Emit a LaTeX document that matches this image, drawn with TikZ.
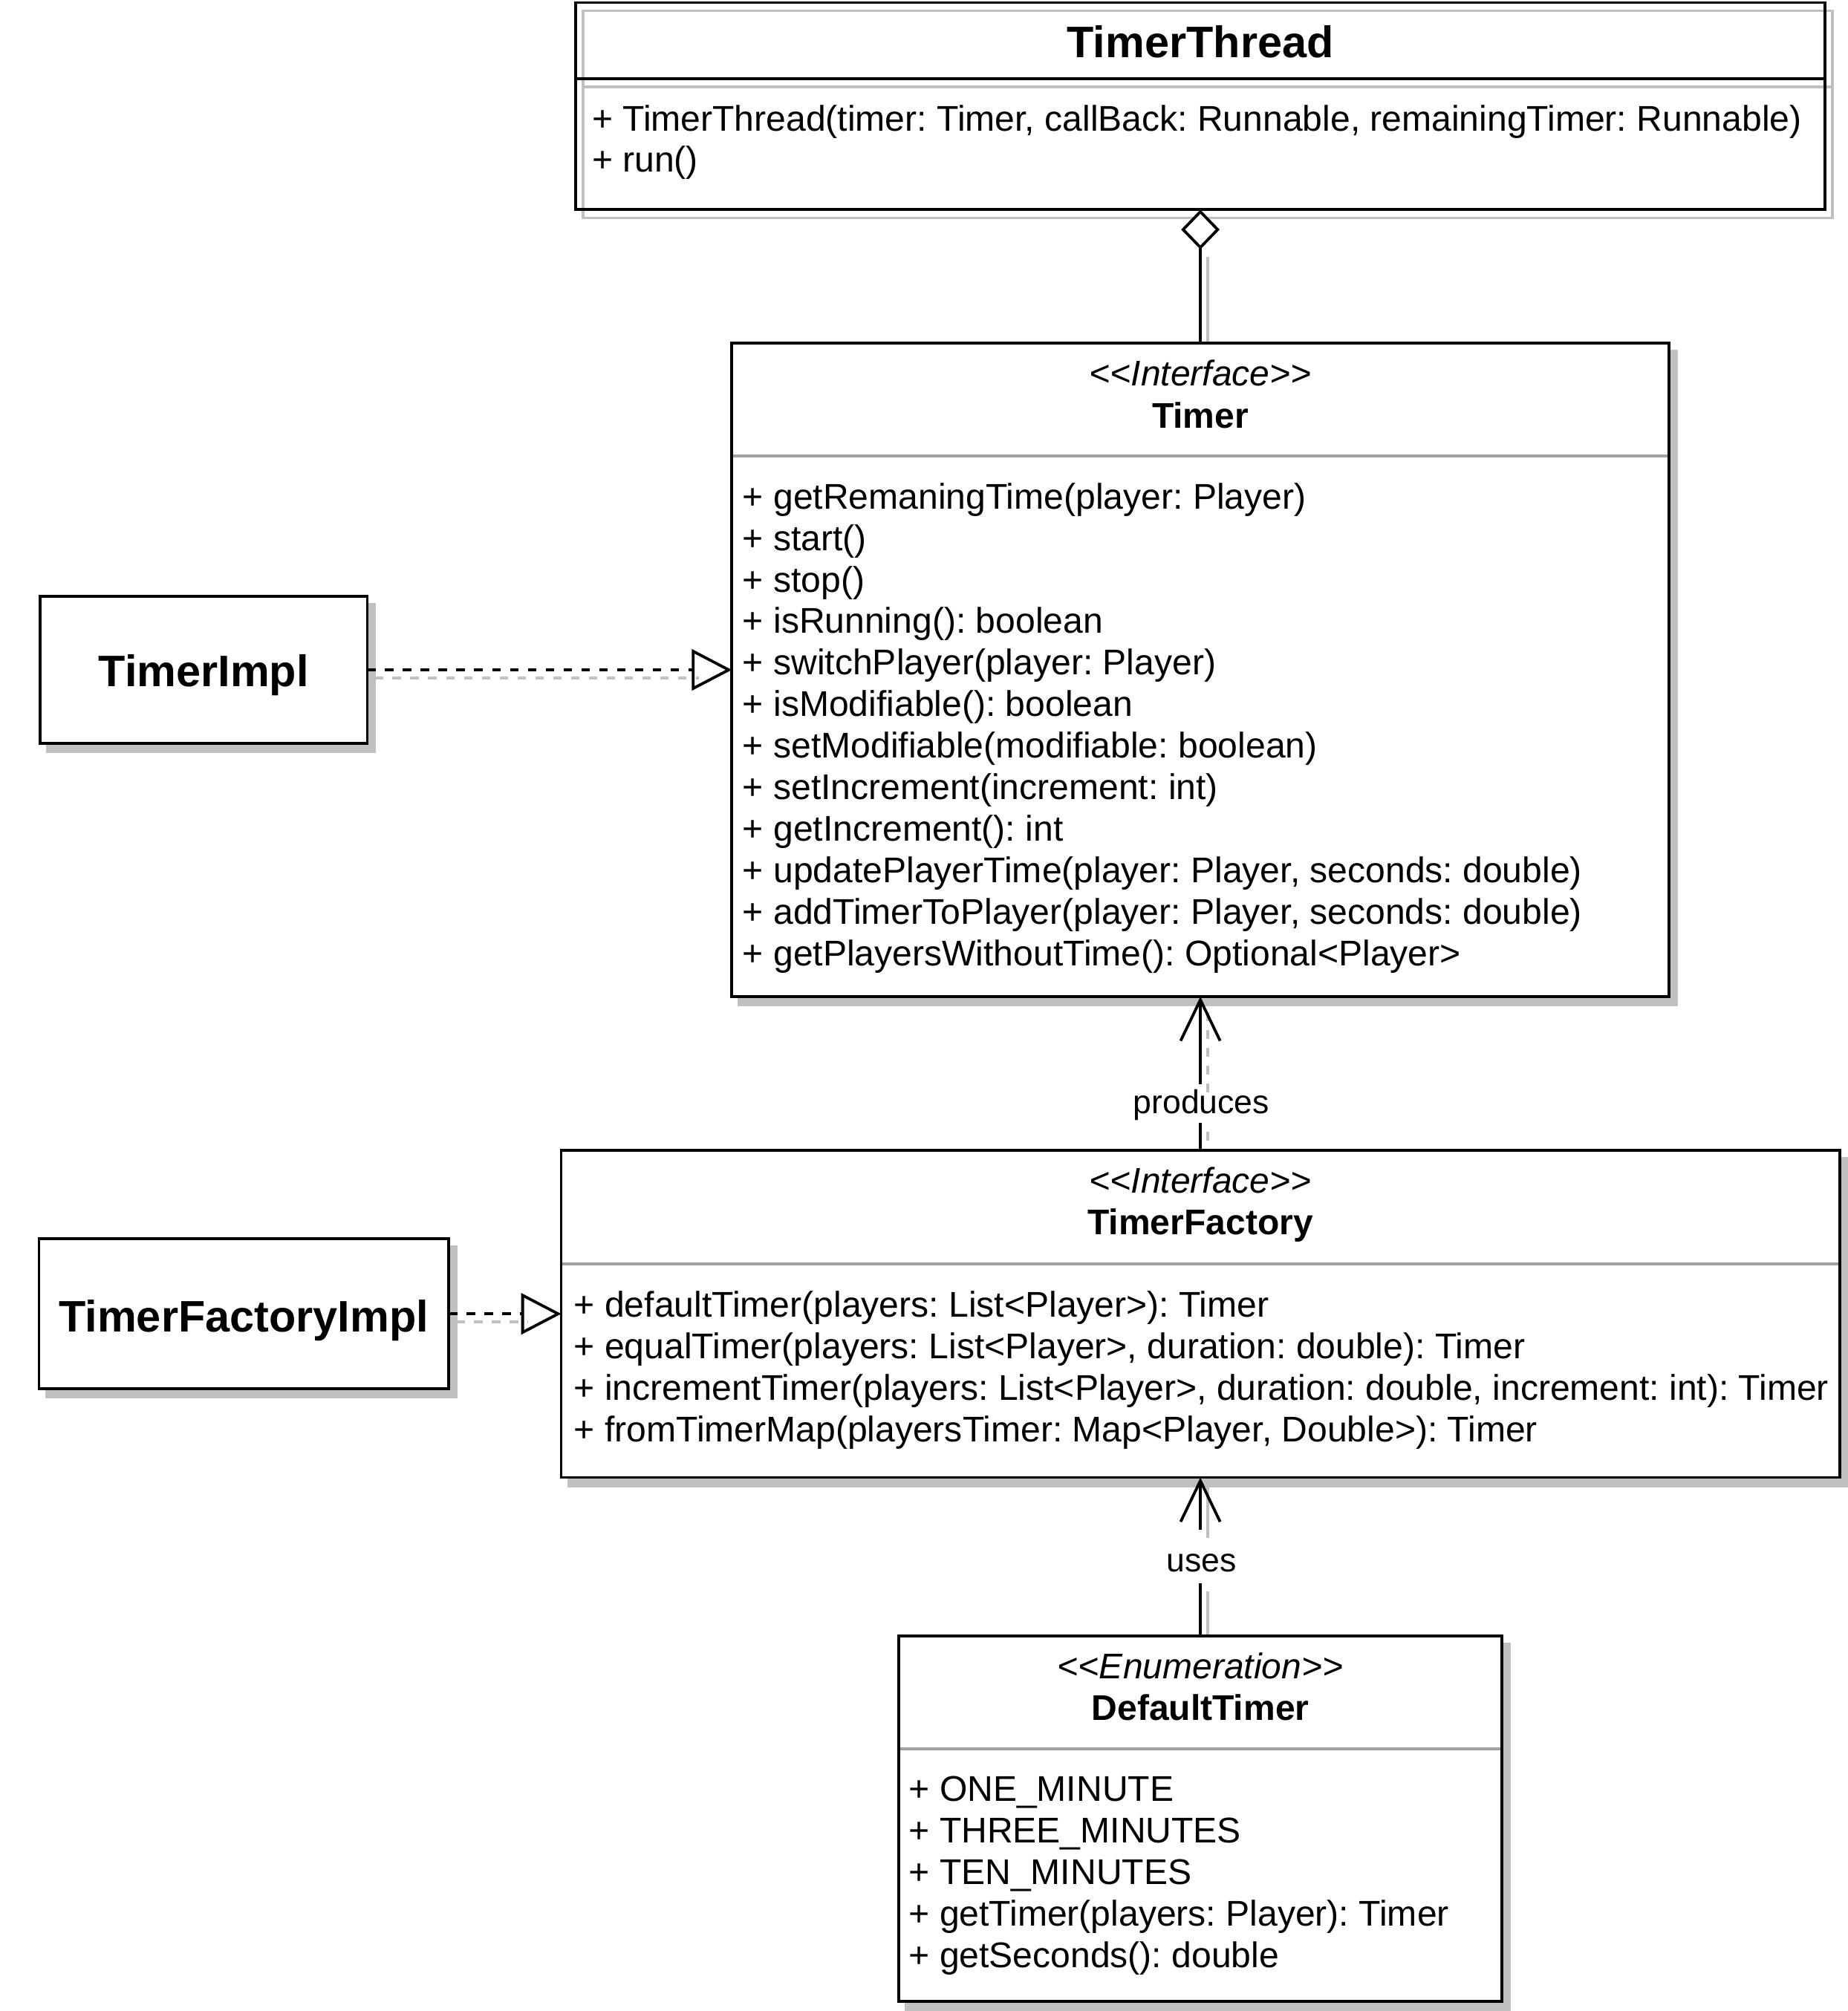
\documentclass[tikz,border=0pt]{standalone}
\usepackage{fontspec}
\setmainfont{Liberation Sans}
\usetikzlibrary{arrows.meta,calc}
\pgfdeclarelayer{bg}
\pgfsetlayers{bg,main}
\definecolor{shadowgray}{HTML}{C0C0C0}
\definecolor{sepgray}{HTML}{A0A0A0}
\frenchspacing
\tikzset{
  lw/.style={line width=1.1pt},
  classbox/.style={rectangle, draw=black, lw, fill=white, inner sep=0pt, outer sep=0pt},
  hollowbox/.style={rectangle, draw=black, lw, inner sep=0pt, outer sep=0pt},
  boxshadow/.style={draw=shadowgray, fill=shadowgray, lw, transform canvas={xshift=2.9pt,yshift=-3.2pt}},
  lineshadow/.style={draw=shadowgray, lw, transform canvas={xshift=2.9pt,yshift=-3.2pt}},
  dashpat/.style={dash pattern=on 3.4pt off 3.55pt},
  sepline/.style={draw=sepgray, lw},
  memb/.style={anchor=base west, inner sep=0pt, outer sep=0pt, font=\fontsize{13.92}{16.2}\selectfont\frenchspacing},
  stereo/.style={anchor=base, inner sep=0pt, outer sep=0pt, font=\fontsize{13.9}{16.2}\selectfont\itshape},
  cname/.style={anchor=base, inner sep=0pt, outer sep=0pt, font=\fontsize{13.9}{16.2}\selectfont\bfseries},
  bigname/.style={anchor=base, inner sep=0pt, outer sep=0pt, font=\fontsize{17.2}{20}\selectfont\bfseries},
  lbl/.style={anchor=base, inner sep=0pt, outer sep=0pt, font=\fontsize{12.9}{15}\selectfont},
  aggr/.style={draw=black, lw, -{Diamond[fill=white, length=15.5pt, width=15pt]}},
  realiz/.style={draw=black, lw, dashpat, -{Triangle[open, length=15.6pt, width=16pt]}},
  assoc/.style={draw=black, lw},
  assocarrow/.style={draw=black, lw, -{Straight Barb[length=16pt, width=15.4pt]}},
}
\begin{document}
\begin{tikzpicture}[x=0.5pt,y=-0.5pt]
\useasboundingbox (0,0) rectangle (1440.6,1568);

% class boxes
\node[hollowbox, minimum width=487pt, minimum height=80.75pt] (thread) at (935.75,82.75) {};
\node[classbox, minimum width=365.25pt, minimum height=254.7pt] (timer) at (935.75,522.3) {};
\node[classbox, minimum width=127.5pt, minimum height=57.45pt] (timerImpl) at (158.8,522.3) {};
\node[classbox, minimum width=498.25pt, minimum height=127.6pt] (factory) at (935.75,1024.4) {};
\node[classbox, minimum width=159.6pt, minimum height=58.5pt] (factoryImpl) at (190,1024.4) {};
\node[classbox, minimum width=235.1pt, minimum height=142.4pt] (dfTimer) at (935.75,1417.9) {};

% separators
\draw[lw] (448.75,61.5) -- (1422.75,61.5);
\draw[sepline] (571.5,355.6) -- (1300,355.6);
\draw[sepline] (438.5,985.7) -- (1433,985.7);
\draw[sepline] (701.7,1363.4) -- (1169.8,1363.4);

% TimerThread
\node[bigname] (threadName) at (935.75,44.8) {TimerThread};
\node[memb] (th0) at (461.5,102) {+ TimerThread(timer: Timer, callBack: Runnable, remainingTimer: Runnable)};
\node[memb] (th1) at (461.5,134) {+ run()};

% Timer
\node[stereo] (timerStereo) at (935.75,300.8) {<{}<Interface>{}>};
\node[cname] (timerName) at (935.75,333.6) {Timer};
\foreach \t [count=\i from 0] in {%
  {+ getRemaningTime(player: Player)},
  {+ start()},
  {+ stop()},
  {+ isRunning(): boolean},
  {+ switchPlayer(player: Player)},
  {+ isModifiable(): boolean},
  {+ setModifiable(modifiable: boolean)},
  {+ setIncrement(increment: int)},
  {+ getIncrement(): int},
  {+ updatePlayerTime(player: Player, seconds: double)},
  {+ addTimerToPlayer(player: Player, seconds: double)},
  {+ getPlayersWithoutTime(): Optional<Player>}}
  \node[memb] (tm\i) at (579,396.7+32.4*\i) {\t};

% TimerImpl
\node[bigname] (timerImplName) at (158.8,535.2) {TimerImpl};

% TimerFactory
\node[stereo] (factoryStereo) at (935.75,930) {<{}<Interface>{}>};
\node[cname] (factoryName) at (935.75,962.8) {TimerFactory};
\foreach \t [count=\i from 0] in {%
  {+ defaultTimer(players: List<Player>): Timer},
  {+ equalTimer(players: List<Player>, duration: double): Timer},
  {+ incrementTimer(players: List<Player>, duration: double, increment: int): Timer},
  {+ fromTimerMap(playersTimer: Map<Player, Double>): Timer}}
  \node[memb] (fm\i) at (447.5,1026.8+32.4*\i) {\t};

% TimerFactoryImpl
\node[bigname] (factoryImplName) at (190,1038.2) {TimerFactoryImpl};

% DefaultTimer
\node[stereo] (dfStereo) at (935.75,1308.7) {<{}<Enumeration>{}>};
\node[cname] (dfName) at (935.75,1341.5) {DefaultTimer};
\foreach \t [count=\i from 0] in {%
  {+ ONE\_MINUTE},
  {+ THREE\_MINUTES},
  {+ TEN\_MINUTES},
  {+ getTimer(players: Player): Timer},
  {+ getSeconds(): double}}
  \node[memb] (dm\i) at (708.5,1404.5+32.4*\i) {\t};

% connectors
\draw[aggr] (timer.north) -- (thread.south);
\draw[realiz] (timerImpl.east) -- (timer.west);
\draw[realiz] (factoryImpl.east) -- (factory.west);
\node[lbl, text height=11.6pt, text depth=3.55pt] (prodLabel) at (936.5,868.4) {produces};
\draw[assoc] (factory.north) -- (factory.north |- prodLabel.south);
\draw[assocarrow] (factory.north |- prodLabel.north) -- (timer.south);
\node[lbl, text height=16.4pt, text depth=4.55pt] (usesLabel) at (936.8,1225.5) {uses};
\draw[assoc] (dfTimer.north) -- (dfTimer.north |- usesLabel.south);
\draw[assocarrow] (dfTimer.north |- usesLabel.north) -- (factory.south);

% shadows
\begin{pgfonlayer}{bg}
\fill[white] (0,0) rectangle (1440.6,1568);
\draw[lineshadow] (thread.north west) rectangle (thread.south east);
\draw[lineshadow] (448.75,61.5) -- (1422.75,61.5);
\filldraw[boxshadow] (timer.north west) rectangle (timer.south east);
\filldraw[boxshadow] (timerImpl.north west) rectangle (timerImpl.south east);
\filldraw[boxshadow] (factory.north west) rectangle (factory.south east);
\filldraw[boxshadow] (factoryImpl.north west) rectangle (factoryImpl.south east);
\filldraw[boxshadow] (dfTimer.north west) rectangle (dfTimer.south east);
\draw[lineshadow] ($(thread.south)+(0,30.6)$) -- (timer.north);
\draw[lineshadow, dashpat] (timerImpl.east) -- ($(timer.west)+(-31.3,0)$);
\draw[lineshadow, dashpat] (factoryImpl.east) -- ($(factory.west)+(-32,0)$);
\draw[lineshadow, dashpat] (factory.north) -- (factory.north |- prodLabel.south);
\draw[lineshadow, dashpat] (factory.north |- prodLabel.north) -- (timer.south);
\draw[lineshadow] (dfTimer.north) -- (dfTimer.north |- usesLabel.south);
\draw[lineshadow] (dfTimer.north |- usesLabel.north) -- (factory.south);
\end{pgfonlayer}
\end{tikzpicture}
\end{document}
